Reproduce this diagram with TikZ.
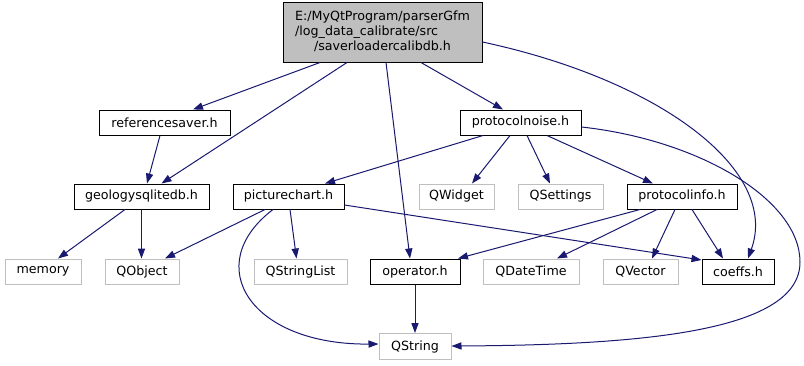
\documentclass[tikz,border=0pt]{standalone}
\usepackage{fontspec}
\setmainfont{DejaVu Sans}
\usetikzlibrary{arrows.meta,calc}
\definecolor{edgeblue}{HTML}{191970}
\definecolor{extgray}{HTML}{BFBFBF}
\definecolor{rootfill}{HTML}{BFBFBF}

\begin{document}
\begin{tikzpicture}[x=0.75pt,y=-0.75pt,
  base/.style={rectangle, inner sep=0pt, line width=0.75pt,
    font=\fontsize{9.5}{11.25}\selectfont, text=black,
    minimum height=25*0.75pt},
  hdr/.style={base, draw=black},
  ext/.style={base, draw=extgray},
  root/.style={base, draw=black, fill=rootfill},
  w/.style={minimum width=#1*0.75pt},
  edge/.style={draw=edgeblue, line width=0.75pt,
    -{Triangle[length=7.5pt,width=5.4pt]}}]

\useasboundingbox (0,0) rectangle (804,365);

% nodes
\node[root, w=199, minimum height=60*0.75pt] (top) at (382.5,32)
  {\begin{tabular}{@{}l@{}}E:/MyQtProgram/parserGfm\\/log\_data\_calibrate/src\\
   \multicolumn{1}{@{}c@{}}{/saverloadercalibdb.h}\end{tabular}};
\node[hdr, w=131] (refsaver) at (164.5,122.5) {referencesaver.h};
\node[hdr, w=121] (pnoise) at (520.5,122.5) {protocolnoise.h};
\node[hdr, w=135] (geodb) at (141.5,196.5) {geologysqlitedb.h};
\node[hdr, w=111] (pchart) at (288.5,196.5) {picturechart.h};
\node[ext, w=75] (qwidget) at (456.5,196.5) {QWidget};
\node[ext, w=85] (qsettings) at (560.5,196.5) {QSettings};
\node[hdr, w=110] (pinfo) at (682,196.5) {protocolinfo.h};
\node[ext, w=76] (memory) at (43,271.5) {memory};
\node[ext, w=74] (qobject) at (142,271.5) {QObject};
\node[ext, w=93] (qstrlist) at (300.5,271.5) {QStringList};
\node[hdr, w=90] (operator) at (415,271.5) {operator.h};
\node[ext, w=96] (qdatetime) at (531,271.5) {QDateTime};
\node[ext, w=75] (qvector) at (640.5,271.5) {QVector};
\node[hdr, w=72] (coeffs) at (738,271.5) {coeffs.h};
\node[ext, w=72, minimum height=26*0.75pt] (qstring) at (415,346.5) {QString};

% edges from the root header
\draw[edge] ($(top.south)+(-62.5,0)$) -- ($(refsaver.north)+(28.5,0)$);
\draw[edge] ($(top.south)+(-35.5,0)$) -- ($(geodb.north)+(20,0)$);
\draw[edge] ($(top.south)+(3.5,0)$) -- ($(operator.north)+(-5,0)$);
\draw[edge] ($(top.south)+(38.5,0)$) -- ($(pnoise.north)+(-17.5,0)$);
\draw[edge] ($(top.east)+(0,10)$) .. controls (660,80) and (780,170) .. ($(coeffs.north)+(10,0)$);

% referencesaver.h / geologysqlitedb.h
\draw[edge] ($(refsaver.south)+(-4.5,0)$) -- ($(geodb.north)+(5.5,0)$);
\draw[edge] ($(geodb.south)+(-16.5,0)$) -- ($(memory.north)+(15,0)$);
\draw[edge] (geodb.south) -- (geodb.south |- qobject.north);

% picturechart.h
\draw[edge] ($(pchart.south)+(-23.5,0)$) -- ($(qobject.north)+(23,0)$);
\draw[edge] ($(pchart.south)+(1.5,0)$) -- ($(qstrlist.north)+(-4,0)$);
\draw[edge] ($(pchart.south)+(-15.5,0)$) .. controls (200,265) and (250,345) .. ($(qstring.west)+(0,-2.5)$);
\draw[edge] ($(pchart.east)+(0,8.5)$) -- ($(coeffs.west)+(0,-11.5)$);

% protocolnoise.h
\draw[edge] ($(pnoise.south)+(-37.5,0)$) -- ($(pchart.north)+(36.5,0)$);
\draw[edge] ($(pnoise.south)+(-10.5,0)$) -- ($(qwidget.north)+(15.5,0)$);
\draw[edge] ($(pnoise.south)+(6.5,0)$) -- ($(qsettings.north)+(-10.5,0)$);
\draw[edge] ($(pnoise.south)+(26.5,0)$) -- ($(pinfo.north)+(-29,0)$);
\draw[edge] ($(pnoise.east)+(0,4.5)$) .. controls (700,140) and (800,200) .. (800,262)
  .. controls (800,330) and (650,345) .. ($(qstring.east)+(0,-0.5)$);

% protocolinfo.h
\draw[edge] ($(pinfo.south)+(-42,0)$) -- ($(operator.north)+(43,0)$);
\draw[edge] ($(pinfo.south)+(-25,0)$) -- ($(qdatetime.north)+(26,0)$);
\draw[edge] ($(pinfo.south)+(-7,0)$) -- ($(qvector.north)+(11.5,0)$);
\draw[edge] ($(pinfo.south)+(10,0)$) -- ($(coeffs.north)+(-15,0)$);

% operator.h
\draw[edge] (operator.south) -- (qstring.north);
\end{tikzpicture}
\end{document}
